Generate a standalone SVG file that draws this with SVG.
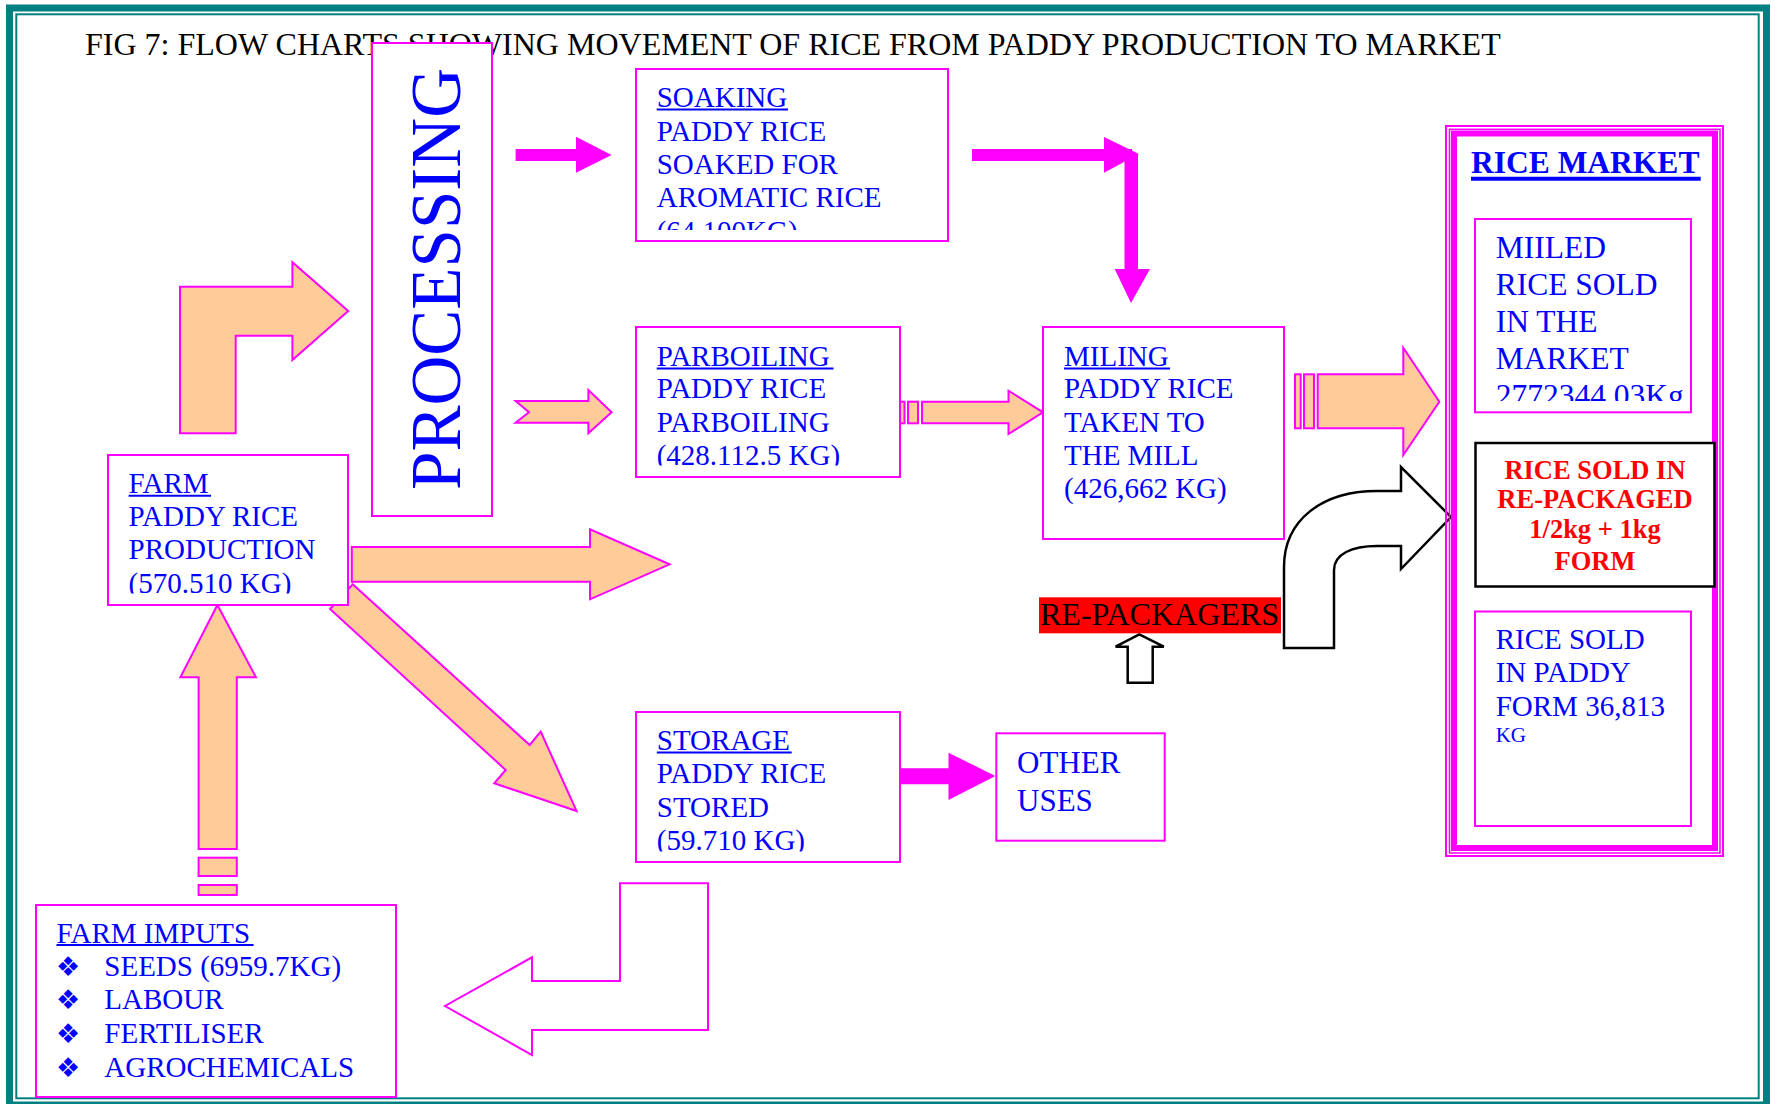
<svg xmlns="http://www.w3.org/2000/svg" width="1775" height="1104" viewBox="0 0 1775 1104">
<style>
.box{fill:#fff;stroke:#ff00ff;stroke-width:2}
.t{font-family:"Liberation Serif","Times New Roman",serif;font-size:29px;fill:#0000ff}
.ul{stroke:#0000ff;stroke-width:2}
.peach{fill:#ffcc99;stroke:#ff00ff;stroke-width:2;stroke-linejoin:miter}
.mag{fill:#ff00ff;stroke:none}
.outline{fill:#fff;stroke:#000;stroke-width:2.5;stroke-linejoin:miter}
.moutline{fill:#fff;stroke:#ff00ff;stroke-width:2;stroke-linejoin:miter}
.bul{font-family:"DejaVu Sans",sans-serif;font-size:27px;fill:#0000ff}
</style>
<defs>
<clipPath id="cSoak"><rect x="636" y="69" width="312" height="161"/></clipPath>
<clipPath id="cParb"><rect x="636" y="327" width="264" height="138.5"/></clipPath>
<clipPath id="cFarm"><rect x="108" y="455" width="240" height="138.5"/></clipPath>
<clipPath id="cStor"><rect x="636" y="712" width="264" height="139.5"/></clipPath>
<clipPath id="cMiil"><rect x="1475" y="219" width="216" height="182"/></clipPath>
</defs>
<rect x="0" y="0" width="1775" height="1104" fill="#fff"/>
<g id="frame" fill="none" stroke="#008080">
<rect x="9.5" y="8" width="1757" height="1097" stroke-width="7"/>
<rect x="16.3" y="14.3" width="1742.4" height="1084" stroke-width="2"/>
</g>
<text id="title" x="85" y="55" font-family="'Liberation Serif','Times New Roman',serif" font-size="32" fill="#000">FIG 7: FLOW CHARTS SHOWING MOVEMENT OF RICE FROM PADDY PRODUCTION TO MARKET</text>

<g id="connectors">
<polygon class="peach" points="180,433.3 180,286.7 292.4,286.7 292.4,262.3 348.2,311 292.4,360 292.4,335.7 235.7,335.7 235.7,433.3"/>
<polygon class="mag" points="515.6,149 576,149 576,136.7 611.6,155 576,172.7 576,161 515.6,161"/>
<polygon class="peach" points="515.6,401 588.4,401 588.4,390 611.6,412.3 588.4,433.3 588.4,422.7 515.6,422.7 529,412.3"/>
<rect class="mag" x="972" y="149" width="160" height="12"/>
<polygon class="mag" points="1104,137 1139,154 1104,172.7"/>
<rect class="mag" x="1124.5" y="154" width="13.5" height="116"/>
<polygon class="mag" points="1114.7,269 1150,269 1131,303"/>
<g class="peach">
<rect x="900" y="401.7" width="4.5" height="21.6"/>
<rect x="908" y="401.7" width="10" height="21.6"/>
<polygon points="922,401.7 1008.5,401.7 1008.5,390.7 1043,412.3 1008.5,434 1008.5,423.3 922,423.3"/>
</g>
<g class="peach">
<rect x="1295" y="374.3" width="5.7" height="54"/>
<rect x="1304" y="374.3" width="10" height="54"/>
<polygon points="1317.7,374.3 1403.3,374.3 1403.3,347.7 1439.3,401.7 1403.3,455 1403.3,428.3 1317.7,428.3"/>
</g>
<polygon class="peach" points="351.8,547 590,547 590,529.3 669.6,564.3 590,599.3 590,581.7 351.8,581.7"/>
<polygon class="peach" points="352.7,584.3 529.7,745 540.7,731.7 576.6,811 494.3,783.3 505.7,770 330,609"/>
<g class="peach">
<polygon points="198.6,849 198.6,677.3 180.4,677.3 217.4,605 256,677.3 236.8,677.3 236.8,849"/>
<rect x="198.6" y="857.7" width="38.2" height="18.3"/>
<rect x="198.6" y="885" width="38.2" height="10"/>
</g>
<polygon class="mag" points="900,768.3 948.5,768.3 948.5,752.7 995.4,776 948.5,800 948.5,784.3 900,784.3"/>
<polygon class="moutline" points="620,883.3 708,883.3 708,1030 532,1030 532,1055 445,1006 532,957.3 532,981 620,981"/>
<polygon class="outline" points="1127.7,682.7 1127.7,646.7 1115.6,646.7 1139.3,634.3 1163.8,646.7 1152.7,646.7 1152.7,682.7"/>
<path class="outline" d="M1284,648 L1284,567 C1284,520 1322,491 1377,491 L1401,491 L1401,467 L1451,517 L1401,569 L1401,546 L1377,546 C1352,546 1334,554 1334,570 L1334,648 Z"/>
</g>

<g id="processing">
<rect class="box" x="372" y="43" width="120" height="473"/>
<text class="t" transform="translate(460,490) rotate(-90)" textLength="422" lengthAdjust="spacingAndGlyphs" style="font-size:72px">PROCESSING</text>
</g>

<g id="soaking">
<rect class="box" x="636" y="69" width="312" height="172"/>
<text class="t" x="656.7" y="107.3">SOAKING</text>
<line class="ul" x1="656.7" y1="109.5" x2="788" y2="109.5"/>
<text class="t" x="656.7" y="140.7">PADDY RICE</text>
<text class="t" x="656.7" y="174">SOAKED FOR</text>
<text class="t" x="656.7" y="207.3">AROMATIC RICE</text>
<text class="t" x="656.7" y="240.6" clip-path="url(#cSoak)">(64,100KG)</text>
</g>

<g id="parboiling">
<rect class="box" x="636" y="327" width="264" height="150"/>
<text class="t" x="656.7" y="366">PARBOILING</text>
<line class="ul" x1="656.7" y1="368.5" x2="833.5" y2="368.5"/>
<text class="t" x="656.7" y="398.3">PADDY RICE</text>
<text class="t" x="656.7" y="431.7">PARBOILING</text>
<text class="t" x="656.7" y="465" clip-path="url(#cParb)">(428.112.5 KG)</text>
</g>

<g id="miling">
<rect class="box" x="1043" y="327" width="241" height="212"/>
<text class="t" x="1064" y="366">MILING</text>
<line class="ul" x1="1064" y1="368.5" x2="1170" y2="368.5"/>
<text class="t" x="1064" y="398.3">PADDY RICE</text>
<text class="t" x="1064" y="431.7">TAKEN TO</text>
<text class="t" x="1064" y="465">THE MILL</text>
<text class="t" x="1064" y="498.3">(426,662 KG)</text>
</g>

<g id="farm">
<rect class="box" x="108" y="455" width="240" height="150"/>
<text class="t" x="128.6" y="493.3">FARM</text>
<line class="ul" x1="128.6" y1="495.8" x2="211" y2="495.8"/>
<text class="t" x="128.6" y="525.7">PADDY RICE</text>
<text class="t" x="128.6" y="559.3">PRODUCTION</text>
<text class="t" x="128.6" y="592.7" clip-path="url(#cFarm)">(570.510 KG)</text>
</g>

<g id="storage">
<rect class="box" x="636" y="712" width="264" height="150"/>
<text class="t" x="656.8" y="750">STORAGE</text>
<line class="ul" x1="656.8" y1="752.5" x2="791.7" y2="752.5"/>
<text class="t" x="656.8" y="783.3">PADDY RICE</text>
<text class="t" x="656.8" y="816.7">STORED</text>
<text class="t" x="656.8" y="850" clip-path="url(#cStor)">(59.710 KG)</text>
</g>

<g id="other-uses">
<rect class="box" x="996.3" y="733.3" width="168.4" height="107.4"/>
<text class="t" x="1017" y="773.3" style="font-size:31px">OTHER</text>
<text class="t" x="1017" y="810.7" style="font-size:31px">USES</text>
</g>

<g id="re-packagers">
<rect x="1039" y="597.3" width="242" height="36" fill="#ff0000"/>
<text x="1040" y="625" font-family="'Liberation Serif','Times New Roman',serif" font-size="31" fill="#000" textLength="239" lengthAdjust="spacingAndGlyphs">RE-PACKAGERS</text>
</g>

<g id="farm-inputs">
<rect class="box" x="36" y="905" width="360" height="192"/>
<text class="t" x="56.5" y="942.7">FARM IMPUTS</text>
<line class="ul" x1="56.5" y1="945" x2="253.6" y2="945"/>
<text class="bul" x="56" y="976">❖</text>
<text class="t" x="104.3" y="976">SEEDS (6959.7KG)</text>
<text class="bul" x="56" y="1009.3">❖</text>
<text class="t" x="104.3" y="1009.3">LABOUR</text>
<text class="bul" x="56" y="1042.7">❖</text>
<text class="t" x="104.3" y="1042.7">FERTILISER</text>
<text class="bul" x="56" y="1076.7">❖</text>
<text class="t" x="104.3" y="1076.7">AGROCHEMICALS</text>
</g>

<g id="rice-market">
<rect x="1446" y="126" width="277" height="730" fill="none" stroke="#ff00ff" stroke-width="2"/>
<rect x="1449.5" y="129.3" width="270.5" height="723.7" fill="none" stroke="#ff00ff" stroke-width="1.5"/>
<rect x="1454" y="133.5" width="261" height="714.5" fill="none" stroke="#ff00ff" stroke-width="6"/>
<text x="1471" y="173.3" font-family="'Liberation Serif','Times New Roman',serif" font-size="31.5" font-weight="bold" fill="#0000ff">RICE MARKET</text>
<line x1="1471" y1="178.7" x2="1700.7" y2="178.7" stroke="#0000ff" stroke-width="4"/>
</g>

<g id="milled-rice">
<rect class="box" x="1475" y="219" width="216" height="193.3"/>
<text class="t" x="1495.7" y="258.3" style="font-size:31.5px">MIILED</text>
<text class="t" x="1495.7" y="295" style="font-size:31.5px">RICE SOLD</text>
<text class="t" x="1495.7" y="332.3" style="font-size:31.5px">IN THE</text>
<text class="t" x="1495.7" y="369.3" style="font-size:31.5px">MARKET</text>
<text class="t" x="1495.7" y="406" style="font-size:31.5px" clip-path="url(#cMiil)">2772344.03Kg</text>
</g>

<g id="repackaged-rice">
<rect x="1475.5" y="443" width="239" height="143.5" fill="#fff" stroke="#000" stroke-width="2.5"/>
<g font-family="'Liberation Serif','Times New Roman',serif" font-size="26.5" font-weight="bold" fill="#ff0000" text-anchor="middle">
<text x="1595" y="479">RICE SOLD IN</text>
<text x="1595" y="508.3">RE-PACKAGED</text>
<text x="1595" y="538.3">1/2kg + 1kg</text>
<text x="1595" y="569.5">FORM</text>
</g>
</g>

<g id="paddy-form">
<rect class="box" x="1475" y="611.5" width="216" height="214.5"/>
<text class="t" x="1495.7" y="649">RICE SOLD</text>
<text class="t" x="1495.7" y="682">IN PADDY</text>
<text class="t" x="1495.7" y="715.5">FORM 36,813</text>
<text class="t" x="1495.7" y="742.3" style="font-size:21px">KG</text>
</g>
</svg>
